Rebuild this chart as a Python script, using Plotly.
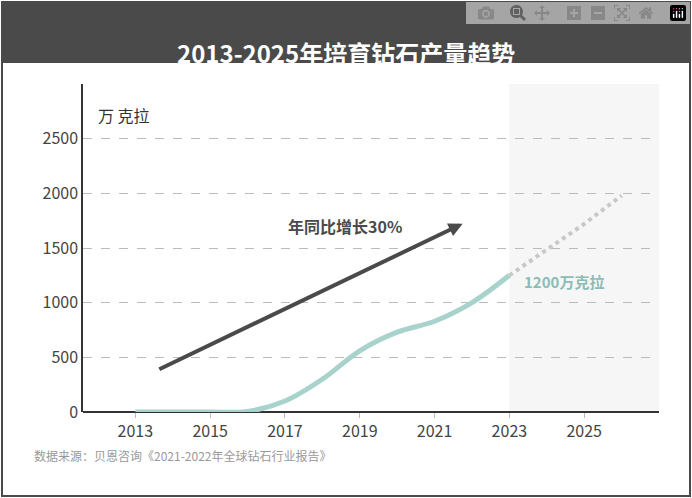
import plotly.graph_objects as go

years = [2013, 2014, 2015, 2016, 2017, 2018, 2019, 2020, 2021, 2022, 2023]
output = [0, 0, 0, 5, 100, 300, 560, 730, 830, 1000, 1250]
f_years = [2023, 2024, 2025, 2026]
f_output = [1250, 1480, 1720, 1980]
yticks = [0, 500, 1000, 1500, 2000, 2500]
xticks = [2013, 2015, 2017, 2019, 2021, 2023, 2025]

W, H = 692, 498
L, R, T, B = 83, 33, 84, 86
FONT = "Noto Sans CJK SC"
PW, PH = W - L - R, H - T - B

def px(x):
    return (x - L) / PW

def py(y):
    return (H - B - y) / PH

fig = go.Figure()
fig.add_trace(go.Scatter(x=years, y=output, mode="lines", line=dict(color="#a8d3cc", width=5, shape="spline"), hoverinfo="skip"))
fig.add_trace(go.Scatter(x=f_years, y=f_output, mode="lines", line=dict(color="#c8c8c8", width=4, dash="dot"), hoverinfo="skip"))

fig.add_shape(type="rect", xref="x", yref="paper", x0=2023, x1=2027.0, y0=0, y1=1, fillcolor="#f6f6f6", line_width=0, layer="below")
fig.add_annotation(x=2021.75, y=1722, ax=2013.6, ay=385, xref="x", yref="y", axref="x", ayref="y",
                   showarrow=True, arrowhead=2, arrowsize=0.7, arrowwidth=4, arrowcolor="#4a4a4a", text="")
fig.add_annotation(x=2018.6, y=1700, text="<b>年同比增长30%</b>", showarrow=False, font=dict(size=16, color="#4a4a4a", family=FONT))
fig.add_annotation(x=2024.45, y=1190, text="<b>1200万克拉</b>", showarrow=False, font=dict(size=15, color="#8cbcb5", family=FONT))
fig.add_annotation(xref="paper", yref="paper", x=px(96), y=py(101), xanchor="left", text="万 克拉", showarrow=False,
                   font=dict(size=16, color="#333", family=FONT))

# frame and title bar
fig.add_shape(type="rect", xref="paper", yref="paper", x0=px(2), x1=px(W - 2), y0=py(H - 2), y1=py(2),
              line=dict(color="#4a4a4a", width=2), fillcolor="rgba(0,0,0,0)")
fig.add_shape(type="rect", xref="paper", yref="paper", x0=px(2), x1=px(W - 2), y0=py(62), y1=py(2),
              line=dict(color="#4a4a4a", width=2), fillcolor="#4a4a4a")
fig.add_annotation(xref="paper", yref="paper", x=px(W / 2), y=py(33), text="<b>2013-2025年培育钻石产量趋势</b>",
                   showarrow=False, font=dict(size=24, color="white", family=FONT))
fig.add_annotation(xref="paper", yref="paper", x=px(32), y=py(466), xanchor="left",
                   text="数据来源：贝恩咨询《2021-2022年全球钻石行业报告》", showarrow=False,
                   font=dict(size=12, color="#999", family=FONT))

fig.update_layout(
    width=W, height=H, margin=dict(l=L, r=R, t=T, b=B), showlegend=False,
    plot_bgcolor="white", paper_bgcolor="white", font=dict(family=FONT, size=16, color="#444"),
    xaxis=dict(range=[2011.6, 2027.0], tickvals=xticks, showgrid=False, zeroline=False, showline=False,
               ticks="outside", ticklen=5, tickcolor="#bbb", tickfont=dict(size=16, color="#444")),
    yaxis=dict(range=[0, 3000], tickvals=yticks, showgrid=True, gridcolor="#bbb", griddash="dash", zeroline=True,
               zerolinecolor="#333", zerolinewidth=1.5, showline=True, linecolor="#333", linewidth=1.5,
               tickfont=dict(size=16, color="#444")),
)
fig.write_html("out.html", post_script="document.body.style.margin='0';")
